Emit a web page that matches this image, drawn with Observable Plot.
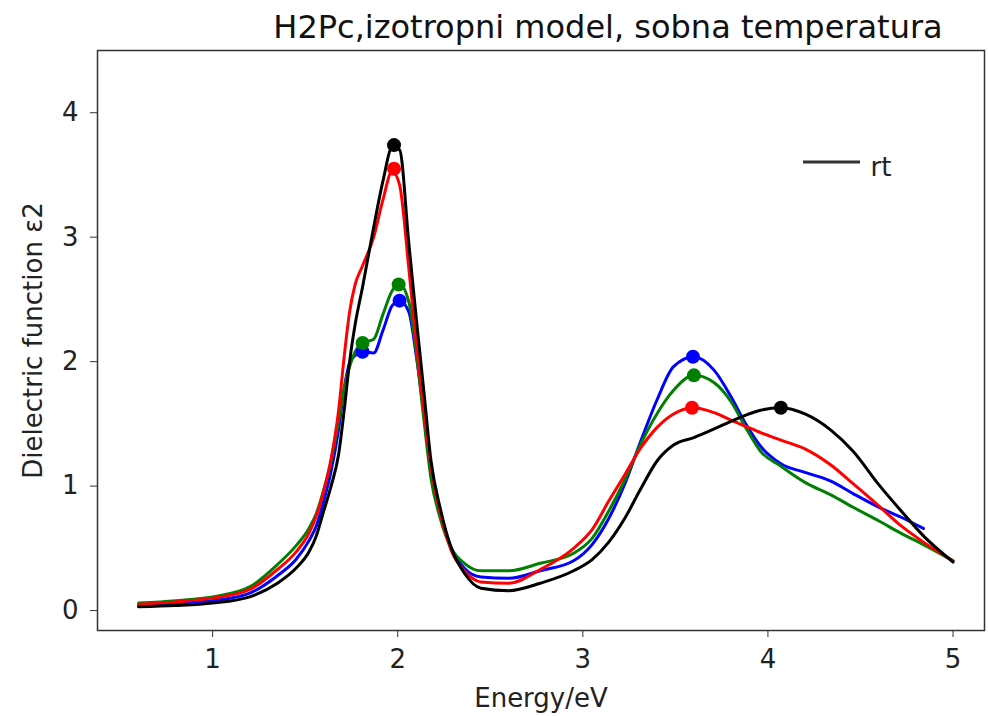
<!DOCTYPE html>
<html><head><meta charset="utf-8">
<script src="https://cdn.jsdelivr.net/npm/d3@7"></script>
<script src="https://cdn.jsdelivr.net/npm/@observablehq/plot@0.6"></script>
<style>body{margin:0;background:#fff}</style>
</head><body><div id="chart"></div>
<script>
const title = "H2Pc,izotropni model, sobna temperatura";
const xLabel = "Energy/eV";
const yLabel = "Dielectric function ε2";
const legendLabel = "rt";
const xTicks = [1, 2, 3, 4, 5];
const yTicks = [0, 1, 2, 3, 4];

const energy = [0.6, 0.8, 1.0, 1.2, 1.35, 1.45, 1.52, 1.56, 1.6, 1.64, 1.68, 1.71, 1.74, 1.77, 1.81, 1.87, 1.92, 1.97, 2.01, 2.06, 2.1, 2.14, 2.18, 2.23, 2.29, 2.36, 2.45, 2.6, 2.77, 2.95, 3.05, 3.14, 3.23, 3.31, 3.4, 3.49, 3.6, 3.71, 3.8, 3.88, 3.96, 4.07, 4.2, 4.34, 4.46, 4.6, 4.72, 4.84, 5.0];

const blackVals = [0.03, 0.04, 0.06, 0.11, 0.22, 0.34, 0.47, 0.60, 0.80, 1.00, 1.25, 1.60, 2.00, 2.30, 2.60, 3.08, 3.45, 3.72, 3.70, 2.95, 2.35, 1.78, 1.20, 0.82, 0.50, 0.30, 0.18, 0.16, 0.22, 0.32, 0.41, 0.55, 0.75, 0.97, 1.20, 1.33, 1.39, 1.46, 1.52, 1.57, 1.61, 1.63, 1.58, 1.45, 1.28, 1.01, 0.80, 0.60, 0.39];
const redVals = [0.05, 0.07, 0.10, 0.17, 0.33, 0.47, 0.62, 0.76, 0.96, 1.22, 1.60, 2.03, 2.40, 2.62, 2.77, 3.00, 3.30, 3.53, 3.42, 2.75, 2.15, 1.62, 1.15, 0.78, 0.48, 0.32, 0.23, 0.22, 0.33, 0.50, 0.65, 0.88, 1.10, 1.30, 1.47, 1.58, 1.63, 1.59, 1.53, 1.48, 1.43, 1.37, 1.30, 1.17, 1.02, 0.84, 0.68, 0.55, 0.40];
const greenVals = [0.06, 0.08, 0.11, 0.19, 0.37, 0.52, 0.66, 0.78, 0.97, 1.20, 1.52, 1.78, 1.96, 2.08, 2.15, 2.18, 2.38, 2.57, 2.62, 2.48, 2.08, 1.55, 1.06, 0.74, 0.50, 0.38, 0.32, 0.32, 0.38, 0.46, 0.58, 0.80, 1.06, 1.33, 1.58, 1.77, 1.89, 1.83, 1.68, 1.47, 1.28, 1.16, 1.03, 0.93, 0.83, 0.72, 0.62, 0.53, 0.40];
const blueVals = [0.04, 0.06, 0.08, 0.14, 0.28, 0.41, 0.56, 0.68, 0.88, 1.12, 1.45, 1.78, 1.99, 2.05, 2.08, 2.07, 2.25, 2.45, 2.49, 2.40, 2.05, 1.60, 1.12, 0.77, 0.50, 0.34, 0.27, 0.26, 0.32, 0.40, 0.53, 0.74, 1.03, 1.35, 1.69, 1.96, 2.04, 1.93, 1.72, 1.50, 1.32, 1.18, 1.11, 1.04, 0.94, 0.83, 0.75, 0.66, null];

const blackPeaksE = [1.98, 4.07];
const blackPeaksV = [3.74, 1.63];
const redPeaksE = [1.98, 3.59];
const redPeaksV = [3.55, 1.63];
const greenPeaksE = [1.81, 2.005, 3.60];
const greenPeaksV = [2.15, 2.62, 1.89];
const bluePeaksE = [1.81, 2.01, 3.595];
const bluePeaksV = [2.08, 2.49, 2.04];

const toRows = (xs, vs) => xs.map((e, i) => ({E: e, v: vs[i]})).filter(d => d.v != null);

const series = [
  {color: "#0000ff", rows: toRows(energy, blueVals), peaks: toRows(bluePeaksE, bluePeaksV)},
  {color: "#008000", rows: toRows(energy, greenVals), peaks: toRows(greenPeaksE, greenPeaksV)},
  {color: "#ff0000", rows: toRows(energy, redVals), peaks: toRows(redPeaksE, redPeaksV)},
  {color: "#000000", rows: toRows(energy, blackVals), peaks: toRows(blackPeaksE, blackPeaksV)}
];

const font = "DejaVu Sans";

function legend(index, scales, values, dims) {
  const g = d3.create("svg:g");
  const right = dims.width - dims.marginRight;
  g.append("line")
    .attr("x1", right - 181).attr("x2", right - 124)
    .attr("y1", dims.marginTop + 112).attr("y2", dims.marginTop + 112)
    .attr("stroke", "#333").attr("stroke-width", 3);
  g.append("text")
    .attr("x", right - 103).attr("y", dims.marginTop + 126)
    .attr("font-family", font).attr("font-size", 26).attr("fill", "#222")
    .text(legendLabel);
  return g.node();
}

const marks = [];
for (const s of series) {
  marks.push(Plot.line(s.rows, {x: "E", y: "v", stroke: s.color, strokeWidth: 3, curve: "monotone-x"}));
}
for (const s of series) {
  marks.push(Plot.dot(s.peaks, {x: "E", y: "v", r: 7, fill: s.color, stroke: "none"}));
}

const chart = Plot.plot({
  width: 988,
  height: 716,
  marginLeft: 97,
  marginRight: 4,
  marginTop: 50,
  marginBottom: 86,
  style: {fontFamily: font, fontSize: "26px", color: "#222", background: "#fff"},
  x: {domain: [0.378, 5.17]},
  y: {domain: [-0.16, 4.5]},
  marks: [
    Plot.axisX({ticks: xTicks, tickSize: 7, tickPadding: 12, fontSize: 26, label: null, tickFormat: d3.format("d"), stroke: "#333"}),
    Plot.axisY({ticks: yTicks, tickSize: 7, tickPadding: 12, fontSize: 26, label: null, tickFormat: d3.format("d"), stroke: "#333"}),
    ...marks,
    Plot.frame({stroke: "#333", strokeWidth: 1.5}),
    Plot.text([title], {frameAnchor: "top", dx: 67, dy: -23, lineAnchor: "middle", fontSize: 32, fill: "#111", fontFamily: font}),
    Plot.text([xLabel], {frameAnchor: "bottom", dy: 68, lineAnchor: "middle", fontSize: 26, fill: "#222"}),
    Plot.text([yLabel], {frameAnchor: "left", dx: -64, dy: 0, rotate: -90, textAnchor: "middle", lineAnchor: "middle", fontSize: 26, fill: "#222"}),
    legend
  ]
});
document.getElementById("chart").appendChild(chart);
</script>
</body></html>
